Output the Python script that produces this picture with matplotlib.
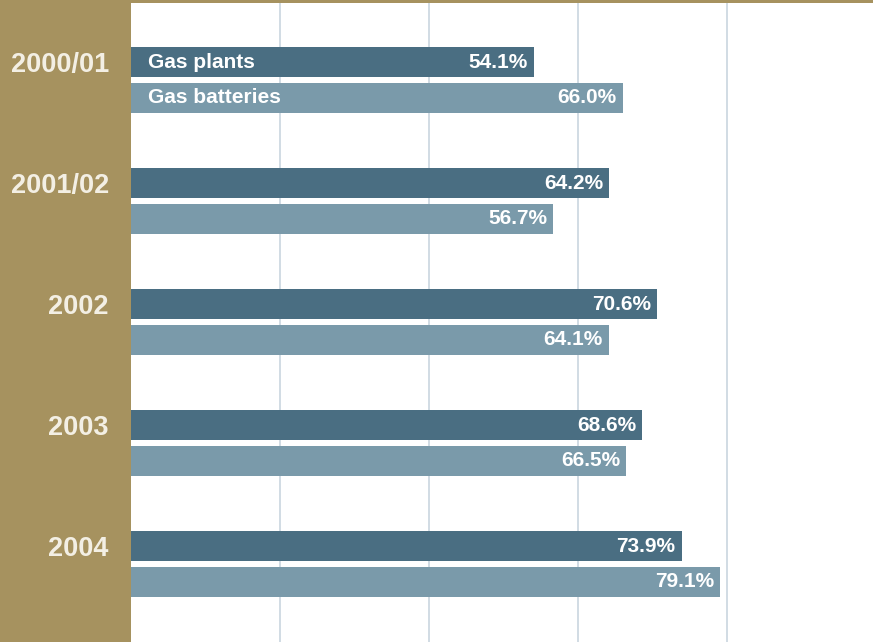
import matplotlib
matplotlib.use("Agg")
import matplotlib.pyplot as plt
import numpy as np

gold = '#a6925f'
dark = '#4a6e82'
light = '#7a9aaa'
grid = '#c9d6df'

years = ["2000/01", "2001/02", "2002", "2003", "2004"]
gas_plants = [54.1, 64.2, 70.6, 68.6, 73.9]
gas_batteries = [66.0, 56.7, 64.1, 66.5, 79.1]
series_names = ["Gas plants", "Gas batteries"]

font = ['Liberation Sans', 'DejaVu Sans']

fig = plt.figure(figsize=(8.73, 6.42), dpi=100)
fig.patch.set_facecolor(gold)
ax = fig.add_axes([131/873, 0, 1 - 131/873, 1 - 3/642])
ax.set_facecolor('white')

pos = np.arange(len(years))
off = 0.148
h = 0.248
ax.barh(pos - off, gas_plants, height=h, color=dark, zorder=2)
ax.barh(pos + off, gas_batteries, height=h, color=light, zorder=2)

lbl = dict(va='center', color='white', fontsize=15, fontweight='bold', family=font, zorder=3)
for y, v in zip(pos - off, gas_plants):
    ax.text(v - 0.8, y, "%.1f%%" % v, ha='right', **lbl)
for y, v in zip(pos + off, gas_batteries):
    ax.text(v - 0.8, y, "%.1f%%" % v, ha='right', **lbl)

# series names sit inside the first pair of bars
ax.text(2.3, pos[0] - off, series_names[0], ha='left', **lbl)
ax.text(2.3, pos[0] + off, series_names[1], ha='left', **lbl)

ax.set_xlim(0, 99.6)
ax.set_ylim(4.645, -0.636)
ax.set_xticks([20, 40, 60, 80])
ax.xaxis.grid(True, color=grid, linewidth=1.2, zorder=1)
ax.tick_params(axis='x', length=0, labelbottom=False)

ax.set_yticks(pos - off)
ax.set_yticklabels(years, fontsize=19.5, fontweight='bold', color='#f3efe4', family=font)
ax.tick_params(axis='y', length=0, pad=16)

for spine in ax.spines.values():
    spine.set_visible(False)

fig.savefig("out.png", dpi=100, facecolor=fig.get_facecolor())
